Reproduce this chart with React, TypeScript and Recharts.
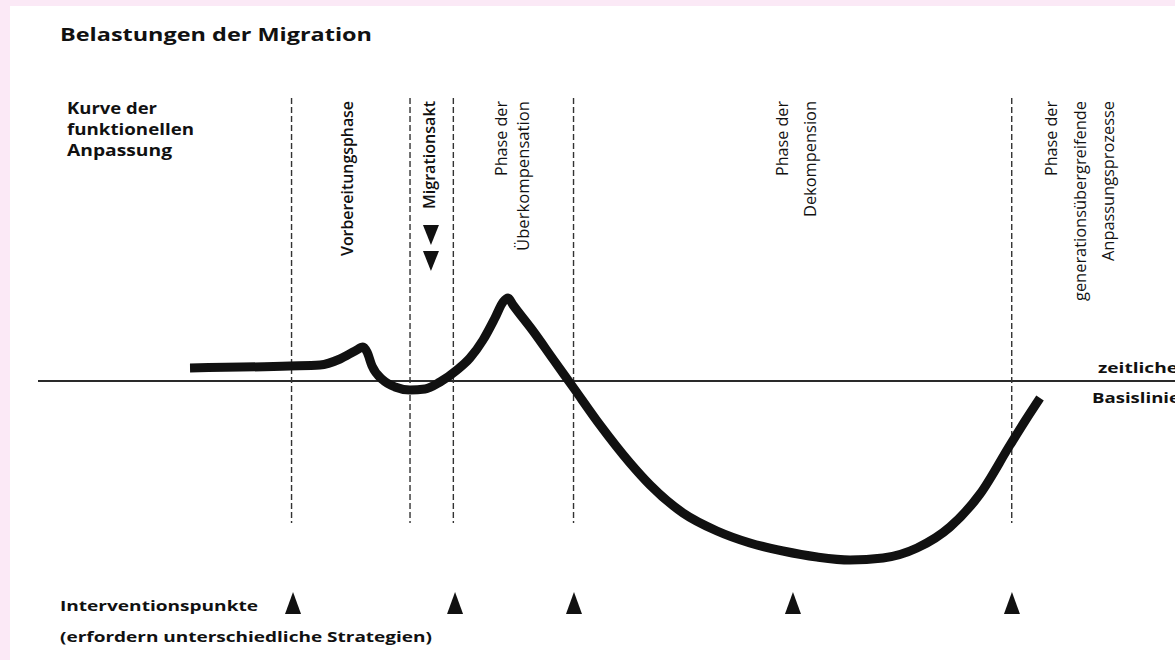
import React from 'react';
import { ComposedChart, Line, Scatter, XAxis, YAxis, ReferenceLine, Customized } from 'recharts';

// Curve of functional adaptation (time units 0..100, level relative to baseline)
const curveX = [13.37, 22.16, 24.8, 26.56, 27.88, 28.58, 28.94, 29.38, 30.34, 31.4, 32.72, 34.04, 35.36, 36.85, 37.99, 39.14, 40.19, 40.9, 41.34, 41.78, 43.54, 45.29, 47.05, 49.43, 52.07, 53.83, 56.73, 59.72, 62.62, 65.52, 68.51, 71.42, 74.32, 77.31, 80.21, 82.85, 85.49, 86.81, 88.13];
const curveY = [1.3, 1.5, 1.6, 2.2, 3.0, 3.4, 2.9, 1.5, 0.1, -0.6, -0.9, -0.8, -0.1, 1.1, 2.3, 4.1, 6.3, 7.9, 8.3, 7.6, 5.0, 2.2, -0.6, -4.4, -8.2, -10.4, -13.2, -15.0, -16.2, -17.0, -17.6, -17.9, -17.7, -16.7, -14.6, -11.3, -6.4, -4.0, -1.7];

const phaseBoundaries = [22.3, 32.72, 36.53, 47.1, 85.64];
const phaseTop = 28.3;
const phaseBottom = -14.2;

const interventionX = [22.43, 36.68, 47.14, 66.4, 85.66];
const interventionLevel = -22.2;

const migrationMarkerX = [34.56, 34.56];
const migrationMarkerY = [14.6, 12.0];

const titleText = 'Belastungen der Migration';
const curveLabel = ['Kurve der', 'funktionellen', 'Anpassung'];
const baselineLabel = ['zeitliche', 'Basislinie'];
const interventionLabel = ['Interventionspunkte', '(erfordern unterschiedliche Strategien)'];
const phaseLabels = [
  { lines: ['Vorbereitungsphase'], weight: 600 },
  { lines: ['Migrationsakt'], weight: 600 },
  { lines: ['Phase der', 'Überkompensation'], weight: 400 },
  { lines: ['Phase der', 'Dekompension'], weight: 400 },
  { lines: ['Phase der', 'generationsübergreifende', 'Anpassungsprozesse'], weight: 400 },
];

const curveData = curveX.map((x, i) => ({ x, y: curveY[i] }));
const interventionData = interventionX.map((x) => ({ x, y: interventionLevel }));
const migrationData = migrationMarkerX.map((x, i) => ({ x, y: migrationMarkerY[i] }));

const FONT = "'Open Sans', 'Noto Sans', 'DejaVu Sans', sans-serif";
const INK = '#111';

const UpTriangle = (props: any) => {
  const { cx, cy } = props;
  return <path d={`M${cx},${cy - 11} L${cx + 8},${cy + 11} L${cx - 8},${cy + 11} Z`} fill={INK} />;
};
const DownTriangle = (props: any) => {
  const { cx, cy } = props;
  return <path d={`M${cx - 8},${cy - 10} L${cx + 8},${cy - 10} L${cx},${cy + 10} Z`} fill={INK} />;
};

// rotated label layout: baseline x per line, text length per line
const phaseLayout = [
  { xs: [343], lens: [155] },
  { xs: [425], lens: [108] },
  { xs: [497, 519], lens: [75, 150] },
  { xs: [778, 806], lens: [75, 116] },
  { xs: [1047, 1076, 1104], lens: [75, 200, 160] },
];

const Labels = () => (
  <g fontFamily={FONT} fill={INK}>
    <text x={50} y={35} fontSize={18} fontWeight={700} textLength={312} lengthAdjust="spacingAndGlyphs">{titleText}</text>
    {curveLabel.map((t, i) => (
      <text key={t} x={57} y={108 + i * 21} fontSize={15.5} fontWeight={700} textLength={[90, 127, 105][i]} lengthAdjust="spacingAndGlyphs">{t}</text>
    ))}
    <text x={1088} y={367} fontSize={15} fontWeight={700} textLength={80} lengthAdjust="spacingAndGlyphs">{baselineLabel[0]}</text>
    <text x={1082} y={397} fontSize={15} fontWeight={700} textLength={88} lengthAdjust="spacingAndGlyphs">{baselineLabel[1]}</text>
    <text x={50} y={605} fontSize={15} fontWeight={700} textLength={198} lengthAdjust="spacingAndGlyphs">{interventionLabel[0]}</text>
    <text x={50} y={636} fontSize={15} fontWeight={700} textLength={372} lengthAdjust="spacingAndGlyphs">{interventionLabel[1]}</text>
    {phaseLabels.map((p, i) =>
      p.lines.map((line, j) => {
        const x = phaseLayout[i].xs[j];
        const y = 95;
        return (
          <text key={`${i}-${j}`} x={x} y={y} transform={`rotate(-90 ${x} ${y})`} textAnchor="end" fontSize={17} fontWeight={p.weight} textLength={phaseLayout[i].lens[j]} lengthAdjust="spacingAndGlyphs">{line}</text>
        );
      })
    )}
  </g>
);

export default function App() {
  return (
    <div style={{ position: 'absolute', left: 0, top: 0, width: 1175, height: 660, background: '#fbe9f6', overflow: 'hidden' }}>
      <div style={{ position: 'absolute', left: 10, top: 6, width: 1165, height: 654, background: '#ffffff' }}>
        <ComposedChart width={1165} height={654} margin={{ top: 85, right: 0, bottom: 19, left: 28 }}>
          <XAxis type="number" dataKey="x" domain={[0, 100]} hide />
          <YAxis type="number" dataKey="y" domain={[-26, 29]} hide />
          <ReferenceLine y={0} stroke="#2a2a2a" strokeWidth={2} />
          {phaseBoundaries.map((b) => (
            <ReferenceLine key={b} segment={[{ x: b, y: phaseTop }, { x: b, y: phaseBottom }]} ifOverflow="visible" stroke="#333" strokeWidth={1.4} strokeDasharray="6 3" />
          ))}
          <Line data={curveData} dataKey="y" type="monotone" stroke={INK} strokeWidth={9} dot={false} activeDot={false} strokeLinejoin="round" strokeLinecap="butt" isAnimationActive={false} />
          <Scatter data={interventionData} dataKey="y" shape={UpTriangle} isAnimationActive={false} />
          <Scatter data={migrationData} dataKey="y" shape={DownTriangle} isAnimationActive={false} />
          <Customized component={Labels} />
        </ComposedChart>
      </div>
    </div>
  );
}
